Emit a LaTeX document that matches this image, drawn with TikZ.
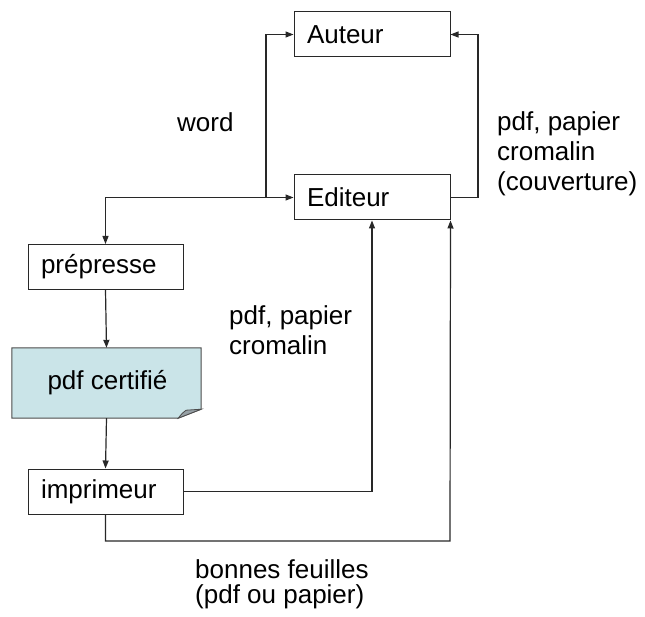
\documentclass[tikz,border=0pt]{standalone}
\usepackage{fontspec}
\setmainfont{Liberation Sans}
\usetikzlibrary{arrows.meta,calc}
\definecolor{certif}{RGB}{202,228,232}
\definecolor{flap}{RGB}{150,160,165}
\definecolor{ink}{RGB}{40,40,40}
\begin{document}
\begin{tikzpicture}[x=1pt,y=-1pt,
  font=\fontsize{26}{30}\selectfont,
  box/.style={draw=ink, line width=1pt, minimum height=45pt, inner xsep=13pt,
              text width=130pt, align=left, anchor=center},
  smallbox/.style={box, text width=129pt},
  link/.style={draw=ink, line width=1.2pt},
  arr/.style={link, -{Triangle[length=8pt,width=6pt]}},
  lbl/.style={align=left, anchor=west, inner sep=0pt}]
\useasboundingbox (0,0) rectangle (645,617);

% main actors
\node[box] (auteur) at (372,34.5) {Auteur};
\node[box] (editeur) at (372,197.5) {Editeur};
\node[smallbox] (prepresse) at (105.5,267) {prépresse};
\node[smallbox] (imprimeur) at (105.5,491.5) {imprimeur};

% certified pdf: document shape with a turned-down corner
\node[minimum width=189pt, minimum height=70pt, inner sep=0pt] (pdf) at (106.5,383) {};
\fill[certif] (pdf.north west) -- (pdf.north east) -- ($(pdf.south east)+(0,-9)$)
   -- ($(pdf.south east)+(-23,0)$) -- (pdf.south west) -- cycle;
\draw[line width=1pt, draw=black!70] (pdf.north west) -- (pdf.north east) -- ($(pdf.south east)+(0,-9)$)
   -- ($(pdf.south east)+(-23,0)$) -- (pdf.south west) -- cycle;
\filldraw[fill=flap, draw=black!70, line width=0.8pt] ($(pdf.south east)+(-23,0)$)
   .. controls ($(pdf.south east)+(-19,-5)$) .. ($(pdf.south east)+(-15,-8)$)
   -- ($(pdf.south east)+(0,-9)$) -- cycle;
\node[inner sep=0pt] at ($(pdf.center)+(1,0)$) {pdf certifié};

% junctions
\coordinate (j1) at (prepresse.north |- editeur.west);
\coordinate (j2) at (266,197.5);
\coordinate (rj) at (478,197.5);
\coordinate (low) at (450,541);

% connectors
\draw[arr] (j1) -- (editeur.west);
\draw[arr] (j1) -- (prepresse.north);
\draw[arr] (j2) |- (auteur.west);
\draw[arr] (editeur.east) -- (rj) |- (auteur.east);
\draw[arr] (prepresse.south) -- (pdf.north);
\draw[arr] (pdf.south) -- (imprimeur.north);
\draw[arr] (imprimeur.east) -| (editeur.south);
\draw[arr] (imprimeur.south) |- (low) -- (editeur.south east);

% labels
\node[lbl] (lword) at (177,122) {word};
\node[lbl] (lcouv) at (497,154) {pdf, papier\\cromalin\\(couverture)};
\node[lbl] (lcrom) at (229,330) {pdf, papier\\cromalin};
\node[lbl, font=\fontsize{26}{25}\selectfont] (lbonnes) at (195,584) {bonnes feuilles\\(pdf ou papier)};
\end{tikzpicture}
\end{document}
